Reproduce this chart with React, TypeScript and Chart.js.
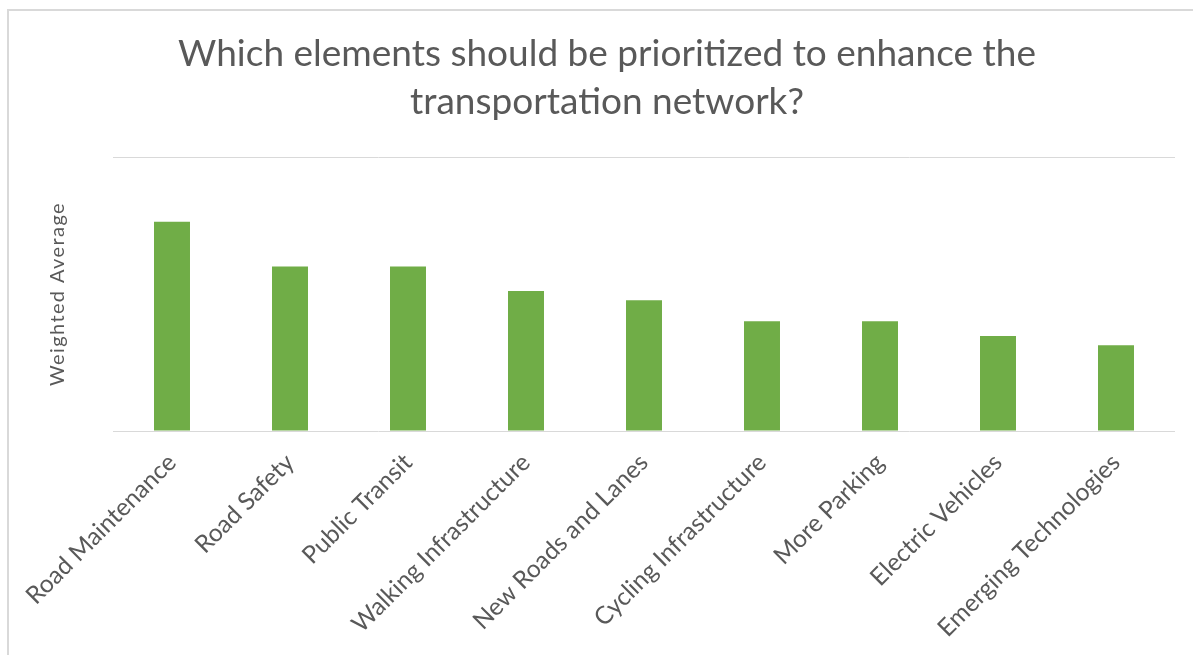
import React, { useEffect, useRef } from "react";
import { Chart, registerables } from "chart.js";

Chart.register(...registerables);

const categories = [
  "Road Maintenance",
  "Road Safety",
  "Public Transit",
  "Walking Infrastructure",
  "New Roads and Lanes",
  "Cycling Infrastructure",
  "More Parking",
  "Electric Vehicles",
  "Emerging Technologies",
];
const weightedAverage = [7.64, 6.0, 6.0, 5.11, 4.77, 4.01, 4.01, 3.47, 3.13];
const titleLines = [
  "Which elements should be prioritized to enhance the",
  "transportation network?",
];
const yAxisTitle = "Weighted Average";
const yMin = 0;
const yMax = 10;

const TEXT = "#595959";
const GRID = "#d9d9d9";
const BAR = "#70ad47";
const FONT = "Lato, 'Open Sans', sans-serif";

export default function App() {
  const ref = useRef<HTMLCanvasElement | null>(null);

  useEffect(() => {
    if (!ref.current) return;
    const chart = new Chart(ref.current, {
      type: "bar",
      data: {
        labels: categories,
        datasets: [
          {
            label: yAxisTitle,
            data: weightedAverage,
            backgroundColor: BAR,
            borderWidth: 0,
            categoryPercentage: 1,
            barPercentage: 0.305,
          },
        ],
      },
      options: {
        responsive: false,
        animation: false,
        layout: { padding: { left: 39, right: 18, top: 0, bottom: 0 } },
        plugins: {
          legend: { display: false },
          tooltip: { enabled: false },
          title: {
            display: true,
            text: titleLines,
            color: TEXT,
            font: { family: FONT, size: 37, weight: "normal", lineHeight: "48px" },
            padding: { top: 30, bottom: 31 },
          },
        },
        scales: {
          x: {
            grid: { display: false },
            border: { display: false },
            ticks: {
              color: TEXT,
              font: { family: FONT, size: 24.5 },
              maxRotation: 45,
              minRotation: 45,
              padding: 9,
            },
            afterFit: (scale: any) => {
              scale.height = 224;
            },
          },
          y: {
            min: yMin,
            max: yMax,
            border: { display: false },
            grid: { color: GRID, lineWidth: 1, drawTicks: false },
            ticks: { display: false, stepSize: 10 },
            title: {
              display: true,
              text: yAxisTitle,
              color: TEXT,
              font: { family: FONT, size: 20 },
              padding: { top: 7, bottom: 0 },
            },
            afterFit: (scale: any) => {
              scale.width = 74;
              if (!scale.__spaced) {
                scale.__spaced = true;
                const orig = scale.drawTitle.bind(scale);
                scale.drawTitle = (...args: any[]) => {
                  const ctx = scale.ctx;
                  ctx.save();
                  (ctx as any).letterSpacing = "1.4px";
                  orig(...args);
                  ctx.restore();
                };
              }
            },
          },
        },
      },
    });
    return () => chart.destroy();
  }, []);

  return (
    <div style={{ position: "absolute", left: 0, top: 0, width: 1193, height: 655, background: "#fff", overflow: "hidden" }}>
      <div
        style={{
          position: "absolute",
          left: 7,
          top: 9,
          width: 1200,
          height: 700,
          borderTop: `2px solid ${GRID}`,
          borderLeft: `2px solid ${GRID}`,
        }}
      />
      <canvas ref={ref} width={1193} height={655} style={{ position: "absolute", left: 0, top: 0 }} />
    </div>
  );
}
